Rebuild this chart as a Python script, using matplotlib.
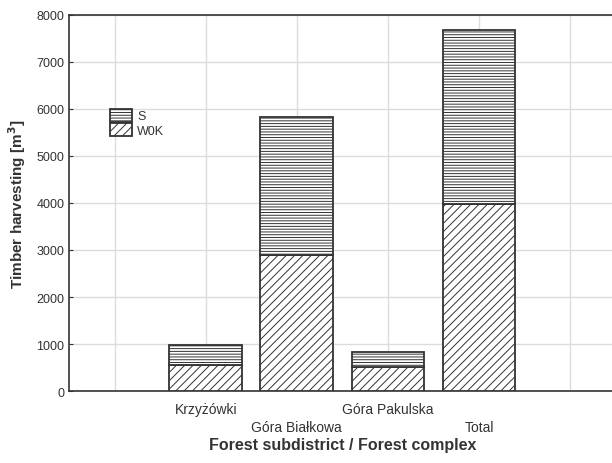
import numpy as np
import matplotlib.pyplot as plt

plt.rcParams['font.family'] = ['Liberation Sans', 'DejaVu Sans']
plt.rcParams['hatch.linewidth'] = 0.7

# Timber harvesting by forest subdistrict
categories = ['Krzyżówki', 'Góra Białkowa', 'Góra Pakulska', 'Total']
w0k = [565, 2890, 510, 3980]
s = [425, 2940, 320, 3690]
ytick_vals = [0, 1000, 2000, 3000, 4000, 5000, 6000, 7000, 8000]

dark = '#333333'
x = np.arange(1, len(categories) + 1)

fig = plt.figure(figsize=(6.12, 4.64), dpi=100)
ax = fig.add_axes([0.113, 0.155, 0.893, 0.811])

ax.bar(x, w0k, width=0.8, color='white', edgecolor=dark, hatch='////',
       linewidth=1.3, label='W0K', zorder=3)
ax.bar(x, s, width=0.8, bottom=w0k, color='white', edgecolor=dark,
       hatch='------', linewidth=1.3, label='S', zorder=3)

ax.set_xlim(-0.5, 5.5)
ax.set_ylim(0, 8000)
ax.set_yticks(ytick_vals)
ax.set_yticklabels([str(v) for v in ytick_vals], color=dark, fontsize=9)

# vertical grid at integer positions, labels alternate between two rows
ax.set_xticks(np.arange(0, 6))
ax.set_xticklabels([])
ax.tick_params(axis='x', length=0)
ax.tick_params(axis='y', direction='in', length=3, color=dark)
for i, name in enumerate(categories):
    ax.text(x[i], -390 if i % 2 == 0 else -770, name, ha='center',
            va='center', fontsize=10, color=dark, transform=ax.transData)

ax.grid(True, color='#dcdcdc', linewidth=1.0, zorder=0)
for side in ['left', 'bottom', 'top']:
    ax.spines[side].set_color(dark)
    ax.spines[side].set_linewidth(1.2)
ax.spines['right'].set_visible(False)

ax.set_ylabel('Timber harvesting [m$^\\mathbf{3}$]', fontsize=11,
              fontweight='bold', color=dark, labelpad=6)
ax.text(0.5, -0.141, 'Forest subdistrict / Forest complex',
        transform=ax.transAxes, ha='center', va='center', fontsize=11.5,
        fontweight='bold', color=dark)

handles, labels = ax.get_legend_handles_labels()
ax.legend(handles[::-1], labels[::-1], loc='upper left',
          bbox_to_anchor=(0.055, 0.78), frameon=False, fontsize=9,
          handlelength=1.75, handleheight=1.2, labelspacing=0.05,
          handletextpad=0.4, labelcolor=dark)

fig.savefig('out.png', dpi=100)
